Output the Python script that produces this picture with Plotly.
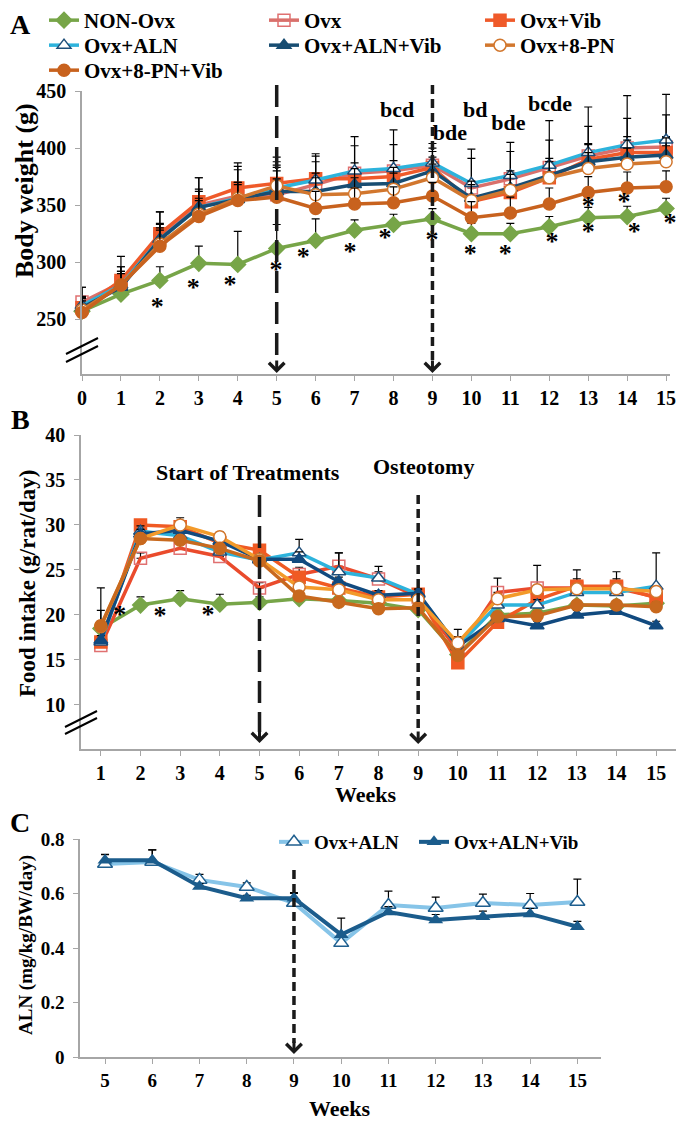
import plotly.graph_objects as go

W, H = 691, 1127
PAGE = 8  # default body margin of the html page

# ---- panel A: body weight (g) ----
weeks_a = list(range(0, 16))
bw_non = [257, 272, 284, 299, 298, 312, 319, 328, 333, 338, 325, 325, 331, 339, 340, 347]
bw_ovx = [265, 282, 322, 350, 358, 359, 368, 378, 380, 385, 365, 373, 383, 393, 400, 401]
bw_vib = [260, 284, 325, 353, 365, 369, 373, 373, 375, 383, 353, 361, 374, 390, 396, 396]
bw_aln = [262, 280, 320, 348, 356, 365, 372, 380, 382, 387, 369, 376, 385, 396, 403, 407]
bw_alnvib = [260, 278, 320, 348, 355, 362, 362, 368, 369, 380, 356, 365, 376, 388, 392, 394]
bw_pn = [258, 280, 316, 342, 356, 367, 359, 360, 364, 374, 354, 363, 374, 382, 386, 388]
bw_pnvib = [256, 280, 314, 340, 354, 357, 347, 351, 352, 358, 339, 343, 351, 361, 365, 366]

err_bw_non = [6, 6, 12, 15, 29, 21, 19, 9, 9, 9, 9, 9, 9, 9, 9, 9]
err_bw_ovx = [13, 14, 11, 14, 26, 29, 25, 24, 23, 15, 26, 24, 24, 26, 26, 28]
err_bw_vib = [9, 12, 19, 21, 16, 16, 15, 14, 14, 14, 14, 14, 14, 14, 14, 14]
err_bw_aln = [16, 25, 24, 26, 31, 27, 23, 30, 34, 17, 30, 29, 39, 40, 43, 40]
err_bw_alnvib = [10, 12, 14, 14, 15, 18, 16, 14, 14, 12, 15, 15, 15, 15, 15, 15]
err_bw_pn = [10, 12, 14, 14, 14, 16, 15, 14, 14, 12, 14, 14, 14, 14, 14, 14]
err_bw_pnvib = [10, 12, 14, 14, 14, 16, 15, 14, 14, 12, 14, 14, 14, 14, 14, 14]

sig_a_x = [1.93, 2.86, 3.8, 4.98, 5.68, 6.88, 7.78, 8.99, 9.97, 10.87, 12.07, 13.0, 13.0, 14.18, 13.92, 15.1, 15.36]
sig_a_y = [259, 276, 279, 292, 303, 308, 320, 318, 306, 306, 316, 325, 348, 325, 351, 333, 357]

letters_a = ['bcd', 'bde', 'bd', 'bde', 'bcde']
letters_a_x = [8.09, 9.45, 10.1, 10.95, 12.02]
letters_a_y = [432, 412, 432, 421, 437]

# ---- panel B: food intake (g/rat/day) ----
weeks_b = list(range(1, 16))
fi_non = [18.5, 21.1, 21.8, 21.2, 21.4, 21.8, 21.6, 21.3, 20.6, 15.6, 20.0, 20.2, 21.1, 21.0, 21.3]
fi_ovx = [16.6, 26.3, 27.4, 26.5, 23.0, 24.5, 25.4, 24.0, 22.0, 16.0, 22.5, 23.0, 23.0, 23.0, 22.0]
fi_vib = [17.0, 30.0, 29.8, 28.0, 27.2, 24.2, 23.0, 22.0, 22.3, 14.7, 19.2, 21.7, 23.2, 23.2, 21.9]
fi_aln = [17.0, 29.3, 28.8, 27.0, 26.1, 26.9, 24.8, 24.1, 22.3, 16.5, 21.1, 21.1, 22.5, 22.5, 23.2]
fi_alnvib = [17.2, 29.0, 29.4, 28.2, 26.2, 26.2, 23.7, 22.2, 22.4, 16.5, 19.6, 18.8, 20.0, 20.4, 18.8]
fi_pn = [18.7, 28.5, 30.0, 28.7, 26.2, 23.1, 22.8, 21.7, 21.7, 16.9, 21.8, 22.8, 22.9, 22.9, 22.6]
fi_pnvib = [18.8, 28.5, 28.3, 27.4, 26.0, 22.1, 21.4, 20.7, 20.8, 15.5, 19.8, 19.9, 21.1, 21.1, 20.9]

err_fi_non = [0.8, 0.9, 0.9, 1.1, 0.6, 0.6, 0.5, 0.5, 0.5, 0.5, 0.5, 0.5, 0.5, 0.5, 0.5]
err_fi_ovx = [6.4, 0.6, 0.6, 0.5, 0.6, 0.8, 1.5, 0.8, 0.6, 2.4, 1.6, 2.5, 1.0, 1.0, 0.6]
err_fi_vib = [0.5, 0.5, 0.6, 0.5, 0.5, 0.6, 0.6, 0.6, 0.5, 0.6, 0.6, 0.6, 1.8, 1.6, 0.6]
err_fi_aln = [3.5, 0.6, 0.6, 0.6, 0.6, 1.5, 2.1, 1.3, 0.5, 1.1, 1.0, 0.6, 0.8, 0.7, 3.7]
err_fi_alnvib = [0.5, 0.5, 0.5, 0.5, 0.5, 0.8, 0.5, 0.5, 0.5, 0.5, 0.5, 0.5, 0.5, 0.5, 0.5]
err_fi_pn = [0.5, 0.5, 0.8, 0.5, 0.5, 0.5, 0.5, 0.5, 0.5, 0.5, 0.5, 0.5, 0.5, 0.5, 0.5]
err_fi_pnvib = [0.5, 0.5, 0.5, 0.5, 0.5, 0.5, 0.5, 0.5, 0.5, 0.5, 0.5, 0.5, 0.5, 0.5, 0.5]

sig_b_x = [1.48, 2.49, 3.7]
sig_b_y = [19.8, 19.7, 19.8]

# ---- panel C: ALN dose (mg/kg/BW/day) ----
weeks_c = list(range(5, 16))
aln_c = [0.708, 0.716, 0.65, 0.624, 0.565, 0.418, 0.558, 0.547, 0.565, 0.558, 0.569]
alnvib_c = [0.722, 0.722, 0.626, 0.583, 0.583, 0.449, 0.532, 0.503, 0.515, 0.525, 0.478]
err_aln_c = [0.035, 0.044, 0.02, 0.015, 0.035, 0.03, 0.051, 0.04, 0.033, 0.042, 0.084]
err_alnvib_c = [0.022, 0.038, 0.01, 0.01, 0.02, 0.061, 0.02, 0.02, 0.02, 0.02, 0.02]

FONT = 'Liberation Serif'
GRAY = '#a6a6a6'


def px(x):
    return (x - PAGE) / W


def py(y):
    return 1 - (y - PAGE) / H


def err(values):
    return dict(type='data', array=values, arrayminus=[0] * len(values), symmetric=False,
                color='black', thickness=1.2, width=4)


# name, colour A, colour B, marker symbol, marker fill, marker outline, legend, legend text pos (px)
series = [
    ('NON-Ovx', '#77a548', '#77a548', 'diamond', None, None, 'legend', (97, 20)),
    ('Ovx', '#d9706b', '#ea4b2c', 'square-open', None, '#e07070', 'legend2', (317, 20)),
    ('Ovx+Vib', '#ef5a2a', '#f05a23', 'square', None, None, 'legend3', (533, 20)),
    ('Ovx+ALN', '#2db3dc', '#2db3dc', 'triangle-up', 'white', '#1f4e79', 'legend4', (97, 45)),
    ('Ovx+ALN+Vib', '#184d72', '#114a7f', 'triangle-up', None, None, 'legend5', (317, 45)),
    ('Ovx+8-PN', '#d2772e', '#f39a2a', 'circle', 'white', '#d2772e', 'legend6', (533, 45)),
    ('Ovx+8-PN+Vib', '#c8621e', '#c8691e', 'circle', None, None, 'legend7', (97, 70)),
]
bw_data = [bw_non, bw_ovx, bw_vib, bw_aln, bw_alnvib, bw_pn, bw_pnvib]
bw_err = [err_bw_non, err_bw_ovx, err_bw_vib, err_bw_aln, err_bw_alnvib, err_bw_pn, err_bw_pnvib]
fi_data = [fi_non, fi_ovx, fi_vib, fi_aln, fi_alnvib, fi_pn, fi_pnvib]
fi_err = [err_fi_non, err_fi_ovx, err_fi_vib, err_fi_aln, err_fi_alnvib, err_fi_pn, err_fi_pnvib]

fig = go.Figure()

for i, (name, ca, cb, sym, fill, edge, leg, _) in enumerate(series):
    for panel, col, xs, ys, es in [('A', ca, weeks_a, bw_data[i], bw_err[i]),
                                   ('B', cb, weeks_b, fi_data[i], fi_err[i])]:
        mk = dict(symbol=sym, size=12, color=fill or col,
                  line=dict(color=edge or col, width=1.5))
        if sym == 'square-open':
            mk = dict(symbol='square-open', size=12, color=edge, line=dict(width=1.5))
        fig.add_trace(go.Scatter(
            x=xs, y=ys, name=name, mode='lines+markers',
            line=dict(color=col, width=3.5), marker=mk, error_y=err(es),
            xaxis='x' if panel == 'A' else 'x2', yaxis='y' if panel == 'A' else 'y2',
            legend=leg, showlegend=(panel == 'A'), cliponaxis=False,
        ))

fig.add_trace(go.Scatter(
    x=weeks_c, y=aln_c, name='Ovx+ALN', mode='lines+markers',
    line=dict(color='#86c4e8', width=4),
    marker=dict(symbol='triangle-up', size=13, color='white', line=dict(color='#1f5f8f', width=1.5)),
    error_y=err(err_aln_c), xaxis='x3', yaxis='y3', legend='legend8', cliponaxis=False))
fig.add_trace(go.Scatter(
    x=weeks_c, y=alnvib_c, name='Ovx+ALN+Vib', mode='lines+markers',
    line=dict(color='#1b5c8c', width=4),
    marker=dict(symbol='triangle-up', size=13, color='#1b5c8c'),
    error_y=err(err_alnvib_c), xaxis='x3', yaxis='y3', legend='legend9', cliponaxis=False))

# significance stars and letters
fig.add_trace(go.Scatter(x=sig_a_x, y=sig_a_y, mode='text', text=['*'] * len(sig_a_x),
                         textfont=dict(size=26, color='black'), showlegend=False,
                         xaxis='x', yaxis='y', cliponaxis=False, hoverinfo='skip'))
fig.add_trace(go.Scatter(x=sig_b_x, y=sig_b_y, mode='text', text=['*'] * len(sig_b_x),
                         textfont=dict(size=26, color='black'), showlegend=False,
                         xaxis='x2', yaxis='y2', cliponaxis=False, hoverinfo='skip'))
fig.add_trace(go.Scatter(x=letters_a_x, y=letters_a_y, mode='text', text=letters_a,
                         textfont=dict(size=22, color='black'), showlegend=False,
                         xaxis='x', yaxis='y', cliponaxis=False, hoverinfo='skip'))

axis_common = dict(showline=True, linecolor=GRAY, linewidth=1.5, ticks='outside', ticklen=5,
                   tickcolor=GRAY, showgrid=False, zeroline=False,
                   tickfont=dict(size=20, color='black'))
yaxis_common = dict(axis_common, ticklabelstandoff=5)

fig.update_layout(
    width=W, height=H, margin=dict(l=0, r=0, t=0, b=0, autoexpand=False),
    plot_bgcolor='white', paper_bgcolor='white',
    font=dict(family=FONT, color='black', weight='bold', size=20),
    xaxis=dict(axis_common, domain=[px(82), px(670)], range=[0, 15.1], tickvals=weeks_a, anchor='y'),
    yaxis=dict(yaxis_common, domain=[py(374), py(91)], range=[202, 450],
               tickvals=[250, 300, 350, 400, 450], anchor='x'),
    xaxis2=dict(axis_common, domain=[px(81), px(676)], range=[0.5, 15.5], tickvals=weeks_b, anchor='y2'),
    yaxis2=dict(yaxis_common, domain=[py(749), py(435)], range=[5.1, 40],
                tickvals=[10, 15, 20, 25, 30, 35, 40], anchor='x2'),
    xaxis3=dict(axis_common, domain=[px(80), px(601)], range=[4.47, 15.5], tickvals=weeks_c, anchor='y3'),
    yaxis3=dict(yaxis_common, domain=[py(1057), py(839)], range=[0, 0.8],
                tickvals=[0, 0.2, 0.4, 0.6, 0.8], ticktext=['0', '0.2', '0.4', '0.6', '0.8'], anchor='x3'),
    showlegend=True,
)
fig.update_layout(xaxis3_tickfont_size=19, yaxis3_tickfont_size=19)

# one single-entry legend per item so each sits where the reference puts it
leg_common = dict(orientation='v', xanchor='left', yanchor='top', bgcolor='rgba(0,0,0,0)',
                  itemclick=False, itemdoubleclick=False, itemwidth=30)
legends = {}
for name, ca, cb, sym, fill, edge, leg, (tx, ty) in series:
    legends[leg] = dict(leg_common, x=px(tx - 53), y=py(ty - 20), font=dict(size=21, color='black'))
legends['legend8'] = dict(leg_common, x=px(327 - 53), y=py(842 - 19), font=dict(size=19, color='black'))
legends['legend9'] = dict(leg_common, x=px(467 - 53), y=py(842 - 19), font=dict(size=19, color='black'))
fig.update_layout(**legends)

shapes = []
# dashed arrow shafts: (xref, x, top px, bottom px, dash)
arrows = [('x', 5, 85, 362, '22px,9px'), ('x', 9, 85, 362, '9px,5px'),
          ('x2', 5, 495, 732, '22px,9px'), ('x2', 9, 495, 733, '9px,5px'),
          ('x3', 9, 870, 1043, '9px,5px')]
annotations = []
for xr, xv, top, bot, dash in arrows:
    shapes.append(dict(type='line', xref=xr, yref='paper', x0=xv, x1=xv, y0=py(top), y1=py(bot),
                       line=dict(color='#1a1a1a', width=3.5, dash=dash)))
    annotations.append(dict(xref=xr, yref='paper', x=xv, y=py(bot + 11), text='', showarrow=True,
                            ax=0, ay=-14, arrowhead=4, arrowsize=1, arrowwidth=3, arrowcolor='#1a1a1a'))

# axis break marks
for (x0, y0, x1, y1) in [(66, 354, 98, 338), (66, 362, 98, 346), (65, 727, 97, 711), (65, 734, 97, 718)]:
    shapes.append(dict(type='line', xref='paper', yref='paper', x0=px(x0), y0=py(y0),
                       x1=px(x1), y1=py(y1), line=dict(color='black', width=2)))

texts = [
    ('A', 20, 24, 28, 0), ('B', 20, 419, 28, 0), ('C', 20, 822, 28, 0),
    ('Body weight (g)', 24, 191, 26, -90),
    ('Food intake (g/rat/day)', 27, 584, 23, -90),
    ('ALN (mg/kg/BW/day)', 26, 945, 19, -90),
    ('Weeks', 366, 794, 22, 0), ('Weeks', 340, 1108, 22, 0),
    ('Start of Treatments', 248, 472, 22, 0), ('Osteotomy', 423, 467, 22, 0),
]
for t, x, y, s, ang in texts:
    annotations.append(dict(xref='paper', yref='paper', x=px(x), y=py(y), text=t, showarrow=False,
                            xanchor='center', yanchor='middle', textangle=ang,
                            font=dict(size=s, color='black')))

fig.update_layout(shapes=shapes, annotations=annotations)

fig.write_html('out.html')
